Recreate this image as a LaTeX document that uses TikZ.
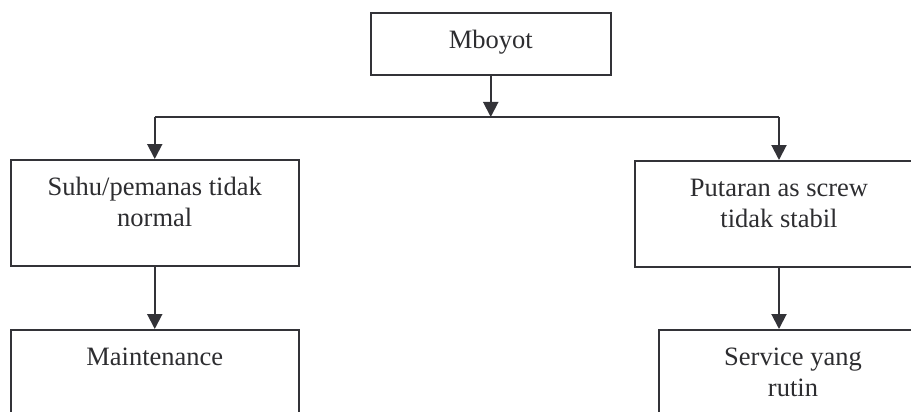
\documentclass[tikz,border=0pt]{standalone}
\usepackage{fontspec}
\setmainfont{Liberation Serif}
\usetikzlibrary{arrows.meta}
\definecolor{ink}{RGB}{51,51,56}
\definecolor{txt}{RGB}{45,45,48}
\newcommand{\boxtext}[3]{\parbox[c][#1pt][t]{#2pt}{\centering\rule{0pt}{35.5pt}#3}}
\tikzset{
  fbox/.style={draw=ink, line width=2pt, inner sep=0pt, anchor=north west, text=txt,
    font=\fontsize{26.5}{31}\selectfont},
  link/.style={draw=ink, line width=2pt},
  arr/.style={link, -{Triangle[width=15pt,length=15pt]}}
}
\begin{document}
\begin{tikzpicture}[x=1pt,y=-1pt]
\path[use as bounding box, clip] (0,0) rectangle (911,412);
\node[fbox] (top) at (369.5,11.7) {\boxtext{62.3}{240.5}{Mboyot}};
\node[fbox] (suhu) at (9.5,159) {\boxtext{106}{288.5}{Suhu/pemanas tidak\\normal}};
\node[fbox] (putar) at (634,160) {\boxtext{105.5}{288}{Putaran as screw\\tidak stabil}};
\node[fbox] (maint) at (9.5,329) {\boxtext{120}{288.5}{Maintenance}};
\node[fbox] (serv) at (658,329) {\boxtext{120}{268}{Service yang\\rutin}};
\coordinate (j) at (top.south |- 0,117);
\coordinate (jl) at (suhu.north |- 0,117);
\coordinate (jr) at (putar.north |- 0,117);
\draw[arr] (top.south) -- (j);
\draw[link] (jl) -- (jr);
\draw[arr] (jl) -- (suhu.north);
\draw[arr] (jr) -- (putar.north);
\draw[arr] (suhu.south) -- (maint.north);
\draw[arr] (putar.south) -- (putar.south |- serv.north);
\end{tikzpicture}
\end{document}
